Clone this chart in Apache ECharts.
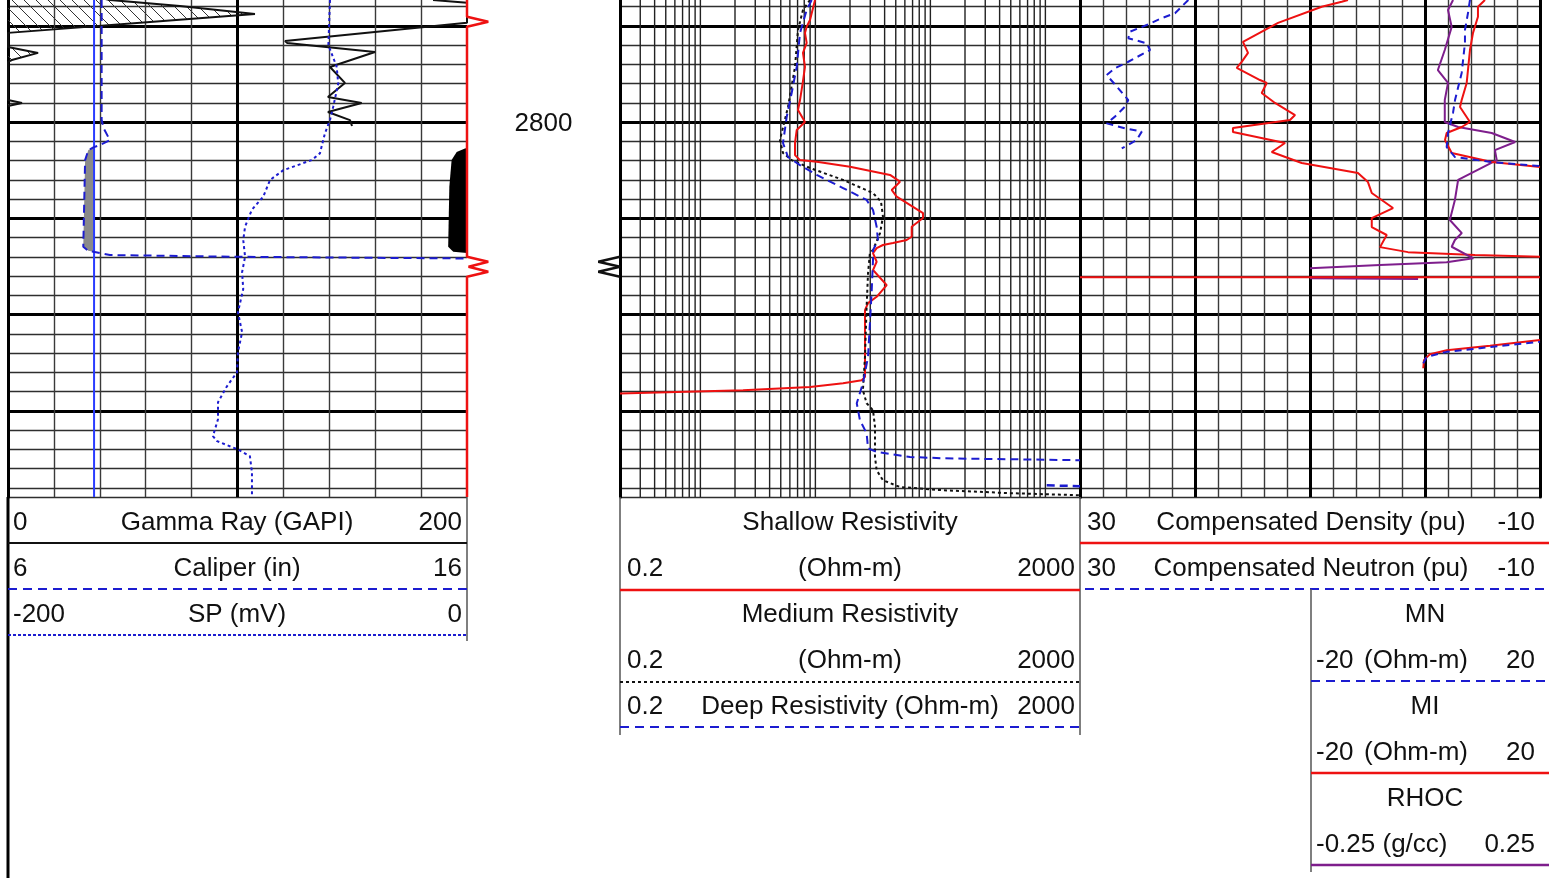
<!DOCTYPE html>
<html><head><meta charset="utf-8">
<script src="https://cdn.jsdelivr.net/npm/echarts@6/dist/echarts.min.js"></script>
<style>html,body{margin:0;padding:0;background:#fff}#c{width:1549px;height:878px}</style>
</head><body><div id="c"></div>
<script>
// ---------- depth ----------
const depthMin = 2700, depthMax = 2994.8;
const depthLabels = [2800];

// ---------- Track 1 : GR (0-200), Caliper (6-16), SP (-200-0) ----------
const grHatch = [[40,2735.5],[44.4,2736.6],[74.9,2739.7],[107.6,2743.9],[61.9,2748.0],[0,2753.7],[0,2761.0],[13.1,2764.1],[1.7,2767.8],[0,2768.8],[0,2788.6],[6.1,2790.1],[0,2791.7]];
const grMain = [[185.2,2736.6],[200,2738.1],[200,2748.5],[120.7,2757.9],[121.6,2758.9],[159.9,2763.6],[140.3,2771.4],[146.8,2779.7],[139.4,2787.0],[154.1,2790.1],[139.4,2794.8],[149.0,2799.0],[149.9,2802.1]];
const grBackup = [[200,2813.5],[199.1,2813.7],[195.5,2815.6],[193.3,2819.8],[192.3,2833.6],[191.8,2864.8],[194.0,2867.4],[200,2868.0]];
const bitSize = 7.875;
const caliper = [[8.04,2736.6],[8.04,2798.8],[8.08,2803.1],[8.22,2809.4],[8.0,2812.0],[7.86,2813.2],[7.75,2814.6],[7.68,2819.8],[7.64,2864.8],[7.75,2866.9],[7.86,2867.4],[8.22,2869.1],[10.91,2870.0],[16.0,2870.9]];
const sp = [[-59.7,2736.6],[-60.4,2760.0],[-56.8,2771.3],[-56.1,2780.0],[-58.3,2792.1],[-59.7,2799.0],[-61.9,2805.9],[-64.1,2816.3],[-67.7,2819.8],[-80.0,2825.0],[-85.8,2830.1],[-88.8,2838.8],[-93.8,2845.7],[-96.7,2854.4],[-97.5,2861.3],[-96.7,2870.0],[-98.0,2878.0],[-97.5,2886.8],[-99.8,2898.8],[-98.0,2909.2],[-99.8,2919.6],[-100.2,2930.0],[-104.6,2937.3],[-108.5,2945.6],[-108.5,2954.4],[-110.7,2963.2],[-108.9,2965.8],[-100.2,2969.9],[-94.6,2973.6],[-93.7,2981.9],[-93.7,2994.8]];

// ---------- depth track markers (fraction of track width) ----------
const tension = [[0,2700],[0,2745.3],[0.139,2747.9],[0,2750.5],[0,2870.0],[0.139,2872.6],[0.01,2875.2],[0.139,2877.8],[0,2880.4],[0,2994.8]];
const depthFlag = [[1,2870.0],[0.858,2872.6],[1,2875.2],[0.858,2877.8],[1,2880.4]];

// ---------- Track 2 : resistivity (0.2-2000, log) ----------
const resGridTicks = [0.3,0.4,0.5,0.6,0.7,0.8,0.9,1,2,3,4,5,6,7,8,9,10,20,30,40,50,60,70,80,90,100,200,300,400,500,600,700,800,900,1000];
const shallow = [[9.93,2736.6],[8.98,2747.0],[8.40,2750.5],[8.12,2753.7],[8.40,2758.9],[7.80,2764.1],[8.12,2771.4],[7.76,2779.7],[7.35,2788.6],[7.06,2793.8],[8.12,2800.0],[6.88,2804.2],[6.65,2810.9],[6.65,2817.2],[7.35,2819.8],[10.27,2820.6],[20.0,2823.2],[44.6,2827.5],[54.4,2831.0],[46.1,2835.3],[50.9,2838.8],[86.3,2847.3],[86.3,2849.9],[68.8,2854.4],[68.8,2859.6],[62.2,2861.3],[47.3,2862.9],[38.7,2863.9],[34.1,2865.5],[31.7,2868.1],[34.1,2872.6],[31.7,2876.9],[41.7,2884.7],[34.1,2890.8],[28.7,2894.1],[27.0,2897.7],[27.0,2932.4],[25.3,2934.1],[17.4,2935.7],[8.98,2937.6],[2.35,2939.3],[0.622,2940.2],[0.2,2941.0]];
const medium = [[8.98,2736.6],[7.80,2741.8],[7.06,2752.2],[6.65,2771.4],[5.78,2792.2],[5.09,2805.7],[4.92,2809.4],[5.23,2816.1],[6.22,2819.8],[8.98,2823.9],[17.4,2830.1],[31.7,2836.9],[37.2,2841.4],[38.7,2849.2],[36.5,2857.7],[31.7,2866.5],[29.8,2868.1],[28.7,2878.5],[27.9,2896.0],[27.0,2922.0],[25.9,2939.3],[27.9,2946.1],[31.7,2949.7],[33.0,2958.4],[33.0,2974.0],[34.1,2980.9],[38.7,2986.1],[54.4,2989.6],[128.7,2991.3],[492.4,2992.8],[2000,2993.9]];
const deep = [[9.29,2736.6],[8.40,2741.8],[7.35,2753.7],[6.88,2771.4],[6.22,2784.9],[5.63,2797.4],[5.23,2810.9],[5.78,2818.2],[7.35,2822.4],[10.27,2827.5],[17.4,2834.3],[27.9,2840.5],[31.7,2845.7],[34.1,2854.4],[35.0,2861.3],[34.1,2862.9],[31.7,2866.5],[31.7,2871.7],[30.9,2887.3],[29.8,2904.5],[28.7,2922.0],[25.9,2935.7],[22.9,2946.1],[24.4,2954.9],[27.9,2961.7],[28.7,2969.5],[34.1,2971.4],[66.5,2974.0],[128.7,2974.7],[2000,2975.7]];
const deepTail = [[1027,2988.7],[2000,2989.2]];

// ---------- Track 3 : density / neutron (30 to -10 pu) ----------
const density = [[6.7,2736.6],[7.24,2737.5],[8.98,2740.1],[12.78,2748.5],[15.83,2758.4],[15.39,2764.1],[15.94,2768.8],[16.37,2771.9],[14.35,2778.2],[13.76,2779.7],[14.20,2784.9],[13.04,2790.1],[11.30,2796.4],[11.74,2799.0],[16.70,2803.1],[16.70,2805.2],[12.17,2810.9],[13.33,2815.6],[10.72,2821.3],[5.83,2826.5],[4.96,2831.2],[4.63,2836.9],[2.78,2844.7],[4.63,2849.9],[4.63,2854.6],[3.33,2858.7],[3.91,2865.0],[1.48,2867.6],[-4.35,2869.1],[-10,2870.0]];
const densityFlat = [[-10,2880.6],[30,2880.6]];
const neutron = [[20.58,2736.6],[21.74,2743.5],[22.90,2746.1],[24.20,2749.6],[25.65,2753.1],[25.80,2756.5],[24.20,2759.1],[23.91,2762.6],[25.80,2768.7],[26.96,2772.1],[27.68,2775.6],[26.67,2782.5],[25.80,2788.6],[26.09,2792.0],[26.96,2797.2],[27.68,2800.7],[26.09,2803.3],[24.63,2805.0],[25.07,2809.4],[26.37,2813.7]];

// ---------- Track 3 right half : MN, MI (-20..20), RHOC (-0.25..0.25) ----------
const mn = [[7.82,2736.6],[7.48,2743.3],[6.95,2752.2],[6.95,2758.9],[6.38,2774.5],[5.22,2788.6],[4.87,2795.3],[4.0,2805.7],[3.77,2813.0],[5.22,2818.2],[11.6,2820.8],[20,2822.9]];
const mnLower = [[-0.30,2925.4],[0.29,2922.0],[3.77,2919.4],[9.56,2917.5],[20,2914.2]];
const mi = [[10.43,2736.6],[9.21,2740.1],[9.21,2745.3],[8.35,2753.7],[7.82,2762.6],[7.25,2779.7],[6.38,2788.6],[6.09,2792.2],[7.82,2800.0],[6.38,2802.6],[3.77,2805.7],[3.48,2809.4],[4.65,2816.1],[11.6,2820.8],[20,2823.4]];
const miLower = [[-0.30,2927.9],[-0.18,2923.7],[0.87,2920.6],[3.77,2918.6],[11.3,2916.2],[20,2913.3]];
const rhoc = [[0.061,2736.6],[0.050,2741.8],[0.058,2750.6],[0.043,2762.6],[0.028,2773.0],[0.050,2779.7],[0.043,2788.6],[0.043,2800.0],[0.072,2802.6],[0.145,2805.7],[0.196,2810.4],[0.152,2814.6],[0.156,2819.8],[0.072,2830.1],[0.065,2840.5],[0.054,2850.9],[0.080,2857.7],[0.065,2861.3],[0.058,2864.8],[0.105,2870.8],[0.047,2872.9],[-0.098,2874.3],[-0.25,2876.0]];
const rhocLower = [[-0.25,2880.9],[-0.015,2881.3]];

// ---------- styles ----------
const RED = '#ee1111', BLUE = '#1c1cd0', BIT = '#2a3cff', PURPLE = '#7e1e8c', BLACK = '#111';
const FONT = '26px "Liberation Sans", Arial, sans-serif';
const TEXT_DY = 2;

// hatch pattern
const pc = document.createElement('canvas'); pc.width = 12; pc.height = 12;
const pctx = pc.getContext('2d'); pctx.strokeStyle = '#333'; pctx.lineWidth = 1;
pctx.beginPath(); pctx.moveTo(0,0); pctx.lineTo(12,12); pctx.moveTo(-6,6); pctx.lineTo(6,18); pctx.moveTo(6,-6); pctx.lineTo(18,6); pctx.stroke();

function belowBit(cal, bit){
  const out = [];
  for (let i = 0; i < cal.length; i++) {
    const v = cal[i][0], d = cal[i][1];
    if (i > 0) {
      const pv = cal[i-1][0], pd = cal[i-1][1];
      if ((pv < bit) !== (v < bit)) { const t = (bit - pv) / (v - pv); out.push([bit, pd + t * (d - pd)]); }
    }
    if (v < bit) out.push([v, d]);
  }
  return out;
}

function fillSeries(points, xi, yi, closeValue, fill){
  return {
    type: 'custom', xAxisIndex: xi, yAxisIndex: yi, silent: true, animation: false, z: 2,
    data: [points[0]], encode: {x: 0, y: 1},
    renderItem: function(params, api){
      const poly = [[closeValue, points[0][1]]].concat(points, [[closeValue, points[points.length-1][1]]]).map(p => api.coord(p));
      return {type: 'polygon', shape: {points: poly}, style: {fill: fill, stroke: null}};
    }
  };
}
function curve(name, data, xi, yi, color, width, dash, extra){
  return Object.assign({name, type: 'line', data, xAxisIndex: xi, yAxisIndex: yi, symbol: 'none', showSymbol: false,
    silent: true, animation: false, z: 3, lineStyle: {color, width, type: dash || 'solid'}}, extra || {});
}

const gridTop = -70.5, gridH = 567.5;
const thinH = {show: true, lineStyle: {color: '#2e2e2e', width: 1.4}};
const thickH = {show: true, showMaxLine: false, lineStyle: {color: '#000', width: 3}};
const thinV = {show: true, lineStyle: {color: '#3a3a3a', width: 1.4}};
const thickV = {show: true, lineStyle: {color: '#000', width: 3}};

function yAx(grid, interval, split, pos, border){
  return {type: 'value', gridIndex: grid, inverse: true, min: depthMin, max: depthMax, interval: interval, position: pos,
    axisLabel: {show: false}, axisTick: {show: false},
    axisLine: {show: !!border, onZero: false, lineStyle: {color: '#000', width: 3}},
    splitLine: split || {show: false}};
}
function xAx(grid, min, max, extra){
  return Object.assign({type: 'value', gridIndex: grid, min, max, axisLabel: {show: false}, axisTick: {show: false},
    axisLine: {show: false, onZero: false}, splitLine: {show: false}}, extra || {});
}
function grid(left, width){ return {left, width, top: gridTop, height: gridH, containLabel: false, outerBoundsMode: 'none'}; }

const calFill = belowBit(caliper, bitSize);

// ---------- legend graphics ----------
function txt(s, x, y, align){ return {type: 'text', z: 100, style: {text: s, x, y: y + TEXT_DY, font: FONT, fill: '#111', textAlign: align, textVerticalAlign: 'middle'}}; }
function ln(x1, y1, x2, y2, color, w, dash){ return {type: 'line', z: 100, shape: {x1, y1, x2, y2}, style: {stroke: color, lineWidth: w, lineDash: dash || null}}; }
const graphics = [
  ln(8,497,8,878,'#000',3), ln(467,497,467,641,'#555',1.5),
  txt('0',13,521,'left'), txt('Gamma Ray (GAPI)',237,521,'center'), txt('200',462,521,'right'), ln(8,543,467,543,BLACK,2),
  txt('6',13,567,'left'), txt('Caliper (in)',237,567,'center'), txt('16',462,567,'right'), ln(8,589,467,589,BLUE,2,[9,6]),
  txt('-200',13,613,'left'), txt('SP (mV)',237,613,'center'), txt('0',462,613,'right'), ln(8,635,467,635,BLUE,2,[3,2]),

  ln(620,497,620,735,'#555',1.5), ln(1080,497,1080,735,'#555',1.5),
  txt('Shallow Resistivity',850,521,'center'),
  txt('0.2',627,567,'left'), txt('(Ohm-m)',850,567,'center'), txt('2000',1075,567,'right'), ln(620,590,1080,590,RED,2.5),
  txt('Medium Resistivity',850,613,'center'),
  txt('0.2',627,659,'left'), txt('(Ohm-m)',850,659,'center'), txt('2000',1075,659,'right'), ln(620,682,1080,682,BLACK,2,[3,3]),
  txt('0.2',627,705,'left'), txt('Deep Resistivity (Ohm-m)',850,705,'center'), txt('2000',1075,705,'right'), ln(620,727,1080,727,BLUE,2,[9,6]),

  txt('30',1087,521,'left'), txt('Compensated Density (pu)',1311,521,'center'), txt('-10',1535,521,'right'), ln(1080,543,1549,543,RED,2.5),
  txt('30',1087,567,'left'), txt('Compensated Neutron (pu)',1311,567,'center'), txt('-10',1535,567,'right'), ln(1085,589,1549,589,BLUE,2,[9,6]),
  ln(1311,589,1311,872,'#555',1.5),
  txt('MN',1425,613,'center'), txt('-20',1316,659,'left'), txt('(Ohm-m)',1416,659,'center'), txt('20',1535,659,'right'), ln(1311,681,1549,681,BLUE,2,[9,6]),
  txt('MI',1425,705,'center'), txt('-20',1316,751,'left'), txt('(Ohm-m)',1416,751,'center'), txt('20',1535,751,'right'), ln(1311,773,1549,773,RED,2.5),
  txt('RHOC',1425,797,'center'), txt('-0.25',1316,843,'left'), txt('(g/cc)',1415,843,'center'), txt('0.25',1535,843,'right'), ln(1311,865,1549,865,PURPLE,2.5)
];

const option = {
  backgroundColor: '#fff',
  animation: false,
  grid: [grid(8, 459), grid(620, 460), grid(1080, 460), grid(1310, 230), grid(467, 153)],
  xAxis: [
    xAx(0, 0, 200, {interval: 20, splitLine: Object.assign({showMaxLine: false}, thinV)}),         // 0 GR thin
    xAx(0, 0, 200, {interval: 100, position: 'top', splitLine: Object.assign({showMaxLine: false}, thickV)}), // 1 GR thick
    xAx(0, 6, 16),                                                                    // 2 caliper
    xAx(0, -200, 0),                                                                  // 3 SP
    {type: 'log', gridIndex: 1, min: 0.2, max: 2000, logBase: 10, axisLabel: {show: false}, axisTick: {show: false}, axisLine: {show: false}, splitLine: {show: false}}, // 4 res
    xAx(2, -10, 30, {inverse: true, interval: 2, splitLine: thinV}),                  // 5 track3 thin
    xAx(2, -10, 30, {inverse: true, interval: 10, position: 'top', splitLine: thickV}), // 6 track3 thick
    xAx(3, -20, 20),                                                                  // 7 MN/MI
    xAx(3, -0.25, 0.25, {position: 'top'}),                                           // 8 RHOC
    xAx(4, 0, 1)                                                                      // 9 depth track
  ],
  yAxis: [
    yAx(0, 10, thinH, 'left', true), yAx(0, 50, thickH, 'right', false),
    yAx(1, 10, thinH, 'left', true), yAx(1, 50, thickH, 'right', true),
    yAx(2, 10, thinH, 'left', true), yAx(2, 50, thickH, 'right', true),
    yAx(3, 10, null, 'left', false),
    yAx(4, 10, null, 'left', false)
  ],
  graphic: graphics,
  series: [
    // track 1
    fillSeries(grHatch, 0, 0, 0, {image: pc, repeat: 'repeat'}),
    fillSeries(grBackup, 0, 0, 200, '#000'),
    fillSeries(calFill, 2, 0, bitSize, '#8a8a8a'),
    curve('Gamma Ray', grHatch, 0, 0, BLACK, 2),
    curve('Gamma Ray (main)', grMain, 0, 0, BLACK, 2),
    curve('Bit Size', [[bitSize, depthMin], [bitSize, depthMax]], 2, 0, BIT, 2),
    curve('Caliper', caliper, 2, 0, BLUE, 2, [8, 5]),
    curve('SP', sp, 3, 0, BLUE, 2, [3, 3]),
    // depth track
    curve('Tension', tension, 9, 7, RED, 2.5, null, {clip: false, z: 5}),
    curve('Depth flag', depthFlag, 9, 7, BLACK, 2.5, null, {clip: false, z: 5}),
    {type: 'custom', xAxisIndex: 9, yAxisIndex: 7, silent: true, animation: false, z: 6,
      data: depthLabels.map(d => [0.5, d]), encode: {x: 0, y: 1},
      renderItem: function(params, api){
        const p = api.coord([api.value(0), api.value(1)]);
        return {type: 'text', x: p[0], y: p[1] + TEXT_DY, style: {text: String(api.value(1)), font: FONT, fill: '#111', align: 'center', verticalAlign: 'middle', textAlign: 'center', textVerticalAlign: 'middle'}};
      }},
    // track 2
    {type: 'custom', xAxisIndex: 4, yAxisIndex: 2, silent: true, animation: false, z: 1,
      data: resGridTicks.map(v => [v, depthMin]), encode: {x: 0, y: 1},
      renderItem: function(params, api){
        const cs = params.coordSys; const x = api.coord([api.value(0), api.value(1)])[0];
        return {type: 'line', shape: {x1: x, y1: cs.y, x2: x, y2: cs.y + cs.height}, style: {stroke: '#222', lineWidth: 1.4}};
      }},
    curve('Shallow Resistivity', shallow, 4, 2, RED, 2),
    curve('Medium Resistivity', medium, 4, 2, BLACK, 2, [3, 3]),
    curve('Deep Resistivity', deep, 4, 2, BLUE, 2, [8, 5]),
    curve('Deep Resistivity (tail)', deepTail, 4, 2, BLUE, 2.5, [8, 5]),
    // track 3
    curve('Compensated Neutron', neutron, 5, 4, BLUE, 2, [7, 5]),
    curve('Compensated Density', density, 5, 4, RED, 2),
    curve('RHOC', rhoc, 8, 6, PURPLE, 2),
    curve('RHOC (lower)', rhocLower, 8, 6, PURPLE, 3),
    curve('Compensated Density (flat)', densityFlat, 5, 4, RED, 2),
    curve('MI', mi, 7, 6, RED, 2),
    curve('MI (lower)', miLower, 7, 6, RED, 2),
    curve('MN', mn, 7, 6, BLUE, 2, [7, 5]),
    curve('MN (lower)', mnLower, 7, 6, BLUE, 2, [7, 5])
  ]
};
const chart = echarts.init(document.getElementById('c'), null, {renderer: 'canvas'});
chart.setOption(option);
</script>
</body></html>
